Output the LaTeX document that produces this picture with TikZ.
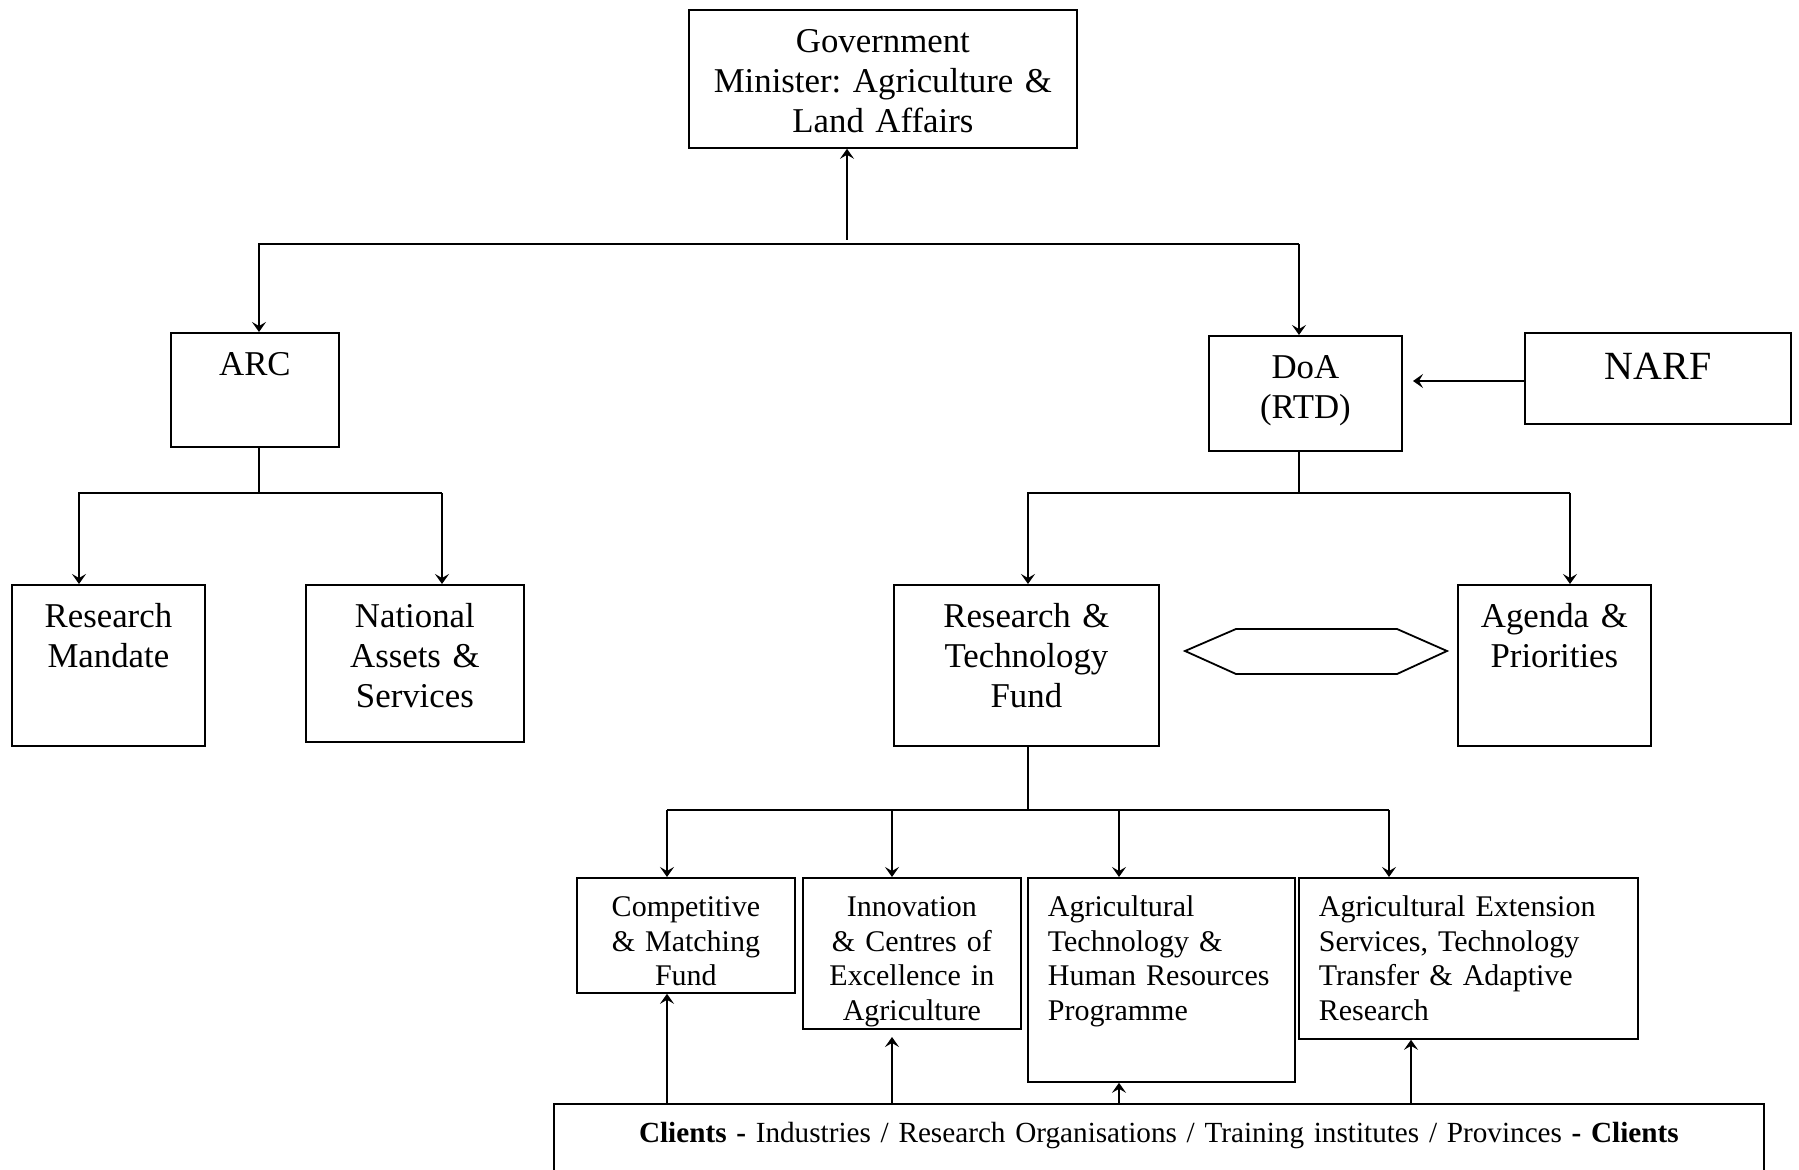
\documentclass[tikz,border=0pt]{standalone}
\usepackage{fontspec}
\setmainfont{Liberation Serif}
\usepackage{tikz}
\usetikzlibrary{arrows.meta}
\frenchspacing

\newcommand\bigtxt{\fontsize{17.4}{20}\selectfont}
\newcommand\smalltxt{\fontsize{15}{17.2}\selectfont}
\newcommand\narftxt{\fontsize{20}{23}\selectfont}
\newcommand\clienttxt{\fontsize{14.6}{17.2}\selectfont}

\tikzset{
  box/.style={draw, line width=0.9pt, anchor=north west, inner xsep=0pt, inner ysep=0pt,
    align=center, font=\bigtxt, text height=21.25pt},
  smallbox/.style={box, font=\smalltxt, text height=19.5pt},
  leftbox/.style={smallbox, align=left, inner xsep=10pt},
  link/.style={line width=0.9pt},
}

\begin{document}
\begin{tikzpicture}[>={Stealth[length=5pt, width=7pt, inset=2pt]}, x=0.5pt, y=-0.5pt]
  \useasboundingbox (0,0) rectangle (1799,1170);

  % Top level
  \node[box, text width=194pt, text depth=47.75pt] (gov) at (688,9)
    {Government\\Minister: Agriculture \&\\Land Affairs};

  % Second level
  \node[box, text width=84pt, text depth=35.75pt] (arc) at (170,332) {ARC};
  \node[box, text width=96.5pt, text depth=36.25pt] (doa) at (1208,335) {DoA\\(RTD)};
  \node[box, font=\narftxt, text width=133pt, text height=23.5pt, text depth=22pt] (narf) at (1524,332) {NARF};

  % Third level
  \node[box, text width=96.5pt, text depth=59.25pt] (mandate) at (11,584) {Research\\Mandate};
  \node[box, text width=109pt, text depth=57.25pt] (assets) at (305,584) {National\\Assets \&\\Services};
  \node[box, text width=132.5pt, text depth=59.25pt] (fund) at (893,584) {Research \&\\Technology\\Fund};
  \node[box, text width=96.5pt, text depth=59.25pt] (agenda) at (1457,584) {Agenda \&\\Priorities};

  % Hexagon between fund and agenda
  \draw[link] (1185,651) -- (1236,629) -- (1397,629) -- (1447,651) -- (1397,674) -- (1236,674) -- cycle;

  % Programmes
  \node[smallbox, text width=109pt, text depth=38pt] (matching) at (576,877) {Competitive\\\& Matching\\Fund};
  \node[smallbox, text width=109pt, text depth=56pt] (excellence) at (802,877) {Innovation\\\& Centres of\\Excellence in\\Agriculture};
  \node[leftbox, text width=113.5pt, text depth=82.5pt] (aghr) at (1027,877) {Agricultural\\Technology \&\\Human Resources\\Programme};
  \node[leftbox, text width=149.5pt, text depth=61pt] (extension) at (1298,877) {Agricultural Extension\\Services, Technology\\Transfer \& Adaptive\\Research};

  % Clients
  \node[smallbox, font=\clienttxt, text width=605pt, text depth=15pt] (clients) at (553,1103)
    {\textbf{Clients -} Industries / Research Organisations / Training institutes / Provinces \textbf{- Clients}};

  % Connectors: government
  \coordinate (govbus) at (847,240);
  \coordinate (arcbus) at (259,244);
  \coordinate (doabus) at (1299,244);
  \draw[link, ->] (govbus) -- (govbus |- gov.south);
  \draw[link, ->] (doabus) -- (arcbus) -- (arcbus |- arc.north);
  \draw[link, ->] (doabus) -- (doabus |- doa.north);

  % NARF into DoA
  \coordinate (narfin) at (1413,381);
  \draw[link, ->] (narfin -| narf.west) -- (narfin);

  % ARC branch
  \coordinate (arcleft) at (79,493);
  \coordinate (arcright) at (442,493);
  \draw[link] (arc.south -| arcbus) -- (arcbus |- arcleft);
  \draw[link, ->] (arcright) -- (arcleft) -- (arcleft |- mandate.north);
  \draw[link, ->] (arcright) -- (arcright |- assets.north);

  % DoA branch
  \coordinate (doaleft) at (1028,493);
  \coordinate (doaright) at (1570,493);
  \draw[link] (doa.south -| doabus) -- (doabus |- doaleft);
  \draw[link, ->] (doaright) -- (doaleft) -- (doaleft |- fund.north);
  \draw[link, ->] (doaright) -- (doaright |- agenda.north);

  % Fund branch
  \coordinate (fundbus) at (1028,810);
  \coordinate (prog1) at (667,810);
  \coordinate (prog2) at (892,810);
  \coordinate (prog3) at (1119,810);
  \coordinate (prog4) at (1389,810);
  \draw[link] (fund.south -| fundbus) -- (fundbus);
  \draw[link] (prog1) -- (prog4);
  \draw[link, ->] (prog1) -- (prog1 |- matching.north);
  \draw[link, ->] (prog2) -- (prog2 |- excellence.north);
  \draw[link, ->] (prog3) -- (prog3 |- aghr.north);
  \draw[link, ->] (prog4) -- (prog4 |- extension.north);

  % Clients feeding back
  \coordinate (up2) at (892,1037);
  \coordinate (up4) at (1411,1038);
  \draw[link, ->] (clients.north -| prog1) -- (prog1 |- matching.south);
  \draw[link, ->] (clients.north -| up2) -- (up2);
  \draw[link, ->] (clients.north -| prog3) -- (prog3 |- aghr.south);
  \draw[link, ->] (clients.north -| up4) -- (up4 |- extension.south);
\end{tikzpicture}
\end{document}
